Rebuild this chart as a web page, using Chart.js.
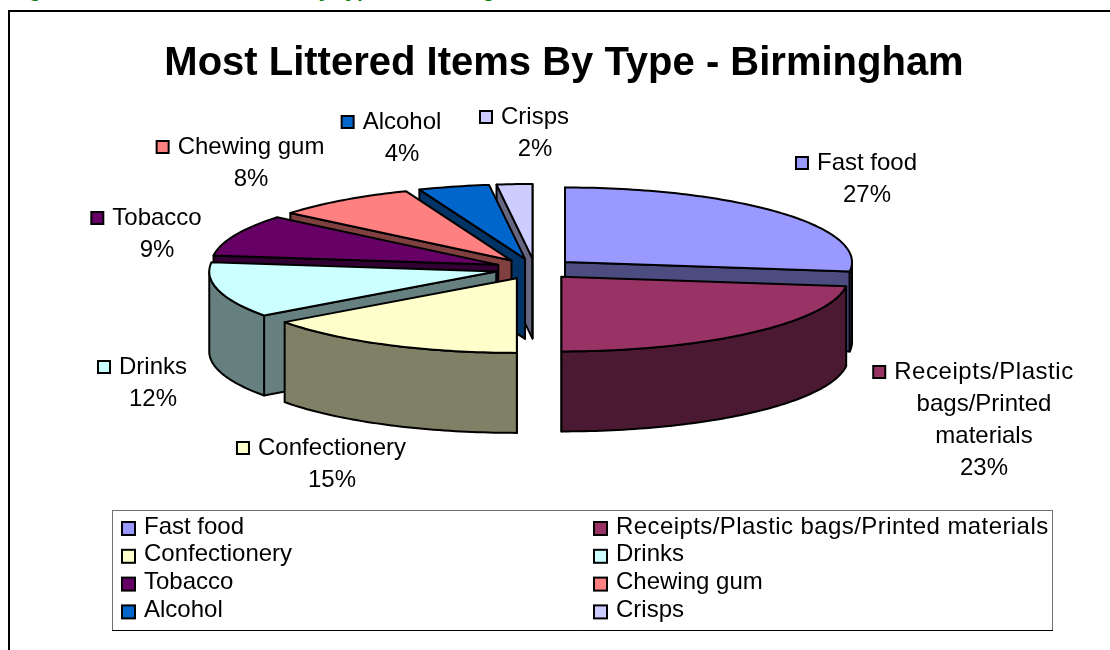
<!DOCTYPE html>
<html>
<head>
<meta charset="utf-8">
<title>Most Littered Items By Type - Birmingham</title>
<script src="https://cdn.jsdelivr.net/npm/chart.js@4"></script>
<style>
    html, body { margin: 0; padding: 0; width: 1110px; height: 650px; overflow: hidden; background: #fff; }
    #heading {
        position: absolute; left: 10px; top: -22px; white-space: nowrap;
        font: bold 21px "Liberation Sans", Arial, sans-serif; color: #008000; word-spacing: 2px;
    }
    #frame {
        position: absolute; left: 8px; top: 10px; width: 1200px; height: 700px;
        border: 2px solid #000; box-sizing: border-box;
    }
    #pie { position: absolute; left: 0; top: 0; }
</style>
</head>
<body>
<div id="heading">Figure 1: Most littered items by type in Birmingham</div>
<div id="frame"><canvas id="pie" width="1108" height="638"></canvas></div>
<script>
const FONT = '"Liberation Sans", Arial, sans-serif';

const categories = ["Fast food", "Receipts/Plastic bags/Printed materials", "Confectionery", "Drinks",
    "Tobacco", "Chewing gum", "Alcohol", "Crisps"];
const percentages = [27, 23, 15, 12, 9, 8, 4, 2];
const topColors = ["#9999FF", "#993366", "#FFFFCC", "#CCFFFF", "#660066", "#FF8080", "#0066CC", "#CCCCFF"];
const sideColors = ["#4C4C80", "#4C1933", "#808066", "#668080", "#330033", "#804040", "#003366", "#666680"];
const labelLines = [["Fast food"], ["Receipts/Plastic", "bags/Printed", "materials"], ["Confectionery"], ["Drinks"],
    ["Tobacco"], ["Chewing gum"], ["Alcohol"], ["Crisps"]];

// centre of the first line of each slice label, canvas pixels
const labelAnchors = [[857, 151], [974, 360], [322, 436], [143, 355], [147, 206], [241, 135], [392, 110], [525, 105]];

// the long Receipts strings run a bit wider than the font gives
const letterSpacing = { "Receipts/Plastic": "0.55px", "Receipts/Plastic bags/Printed materials": "0.42px" };

const TILT = 0.26;      // squash of the pie ellipse
const DEPTH = 80;       // height of the extruded side
const EXPLODE = 40;     // how far slices are pulled out
const SHIFT_X = -29;    // pie sits left of the title centre
const LINE = 2;

function sliceGeometry(arc) {
    const mid = (arc.startAngle + arc.endAngle) / 2;
    const cx = arc.x + SHIFT_X + Math.cos(mid) * EXPLODE;
    const cy = arc.y + Math.sin(mid) * EXPLODE * TILT;
    const px = a => cx + Math.cos(a) * arc.outerRadius;
    const py = (a, down) => cy + Math.sin(a) * arc.outerRadius * TILT + (down || 0);
    return { cx, cy, px, py, mid };
}

function drawPoly(ctx, points, fill) {
    ctx.beginPath();
    points.forEach((p, i) => i ? ctx.lineTo(p[0], p[1]) : ctx.moveTo(p[0], p[1]));
    ctx.closePath();
    ctx.fillStyle = fill;
    ctx.fill();
    ctx.stroke();
}

function arcPoints(g, from, to, down) {
    const pts = [];
    const steps = Math.max(2, Math.ceil(Math.abs(to - from) / 0.02));
    for (let i = 0; i <= steps; i++) {
        const a = from + (to - from) * i / steps;
        pts.push([g.px(a), g.py(a, down)]);
    }
    return pts;
}

function drawSlice(ctx, arc, side) {
    const g = sliceGeometry(arc);
    const s = arc.startAngle, e = arc.endAngle;
    ctx.strokeStyle = "#000";
    ctx.lineWidth = LINE;
    ctx.lineJoin = "round";

    // radial cut faces, only the ones turned to the viewer
    if (Math.cos(s) < 0.001) {
        drawPoly(ctx, [[g.cx, g.cy], [g.px(s), g.py(s)], [g.px(s), g.py(s, DEPTH)], [g.cx, g.cy + DEPTH]], side);
    }
    if (Math.cos(e) > -0.001) {
        drawPoly(ctx, [[g.cx, g.cy], [g.px(e), g.py(e)], [g.px(e), g.py(e, DEPTH)], [g.cx, g.cy + DEPTH]], side);
    }

    // outer rim, front half only
    const ranges = [[0, Math.PI], [2 * Math.PI, 3 * Math.PI]];
    ranges.forEach(r => {
        const from = Math.max(s, r[0]), to = Math.min(e, r[1]);
        if (to > from) {
            drawPoly(ctx, arcPoints(g, from, to, 0).concat(arcPoints(g, to, from, DEPTH)), side);
        }
    });

    // top face
    drawPoly(ctx, [[g.cx, g.cy]].concat(arcPoints(g, s, e, 0)), arc.options.backgroundColor);
}

function drawSwatch(ctx, x, y, size, fill) {
    ctx.fillStyle = fill;
    ctx.fillRect(x, y, size, size);
    ctx.strokeStyle = "#000";
    ctx.lineWidth = 2;
    ctx.strokeRect(x, y, size, size);
}

function drawText(ctx, text, x, y) {
    ctx.letterSpacing = letterSpacing[text] || "0px";
    ctx.fillText(text, x, y);
    ctx.letterSpacing = "0px";
}

const pie3d = {
    id: "pie3d",
    beforeDatasetDraw(chart, args) {
        const ctx = chart.ctx;
        const arcs = chart.getDatasetMeta(args.index).data;
        const order = arcs.map((arc, i) => i).sort((a, b) =>
            Math.sin(sliceGeometry(arcs[a]).mid) - Math.sin(sliceGeometry(arcs[b]).mid));
        ctx.save();
        order.forEach(i => drawSlice(ctx, arcs[i], sideColors[i]));
        ctx.restore();
        return false;
    },
    afterDraw(chart) {
        const ctx = chart.ctx;
        ctx.save();
        ctx.font = "24px " + FONT;
        ctx.textBaseline = "middle";

        // slice labels
        ctx.textAlign = "center";
        categories.forEach((name, i) => {
            const [x, y] = labelAnchors[i];
            const lines = labelLines[i].concat(percentages[i] + "%");
            ctx.letterSpacing = letterSpacing[lines[0]] || "0px";
            const w = ctx.measureText(lines[0]).width;
            ctx.letterSpacing = "0px";
            drawSwatch(ctx, x - w / 2 - 21, y - 6, 12, topColors[i]);
            ctx.fillStyle = "#000";
            lines.forEach((line, n) => drawText(ctx, line, x, y + n * 32));
        });

        // boxed legend, two columns
        ctx.lineWidth = 1;
        ctx.strokeStyle = "#707070";
        ctx.strokeRect(102.5, 498.5, 940, 120);
        ctx.strokeStyle = "#000";
        ctx.beginPath();
        ctx.moveTo(102, 618.5);
        ctx.lineTo(1043, 618.5);
        ctx.stroke();
        ctx.textAlign = "left";
        categories.forEach((name, i) => {
            const col = i % 2, row = Math.floor(i / 2);
            const x = col ? 584 : 112;
            const y = 515 + row * 27.8;
            drawSwatch(ctx, x, y - 5, 13, topColors[i]);
            ctx.fillStyle = "#000";
            drawText(ctx, name, x + 22, y);
        });
        ctx.restore();
    },
};

new Chart(document.getElementById("pie"), {
    type: "pie",
    data: {
        labels: categories,
        datasets: [{ data: percentages, backgroundColor: topColors, borderWidth: 0 }],
    },
    plugins: [pie3d],
    options: {
        responsive: false,
        animation: false,
        radius: 287,
        layout: { padding: { bottom: 200 } },
        plugins: {
            legend: { display: false },
            tooltip: { enabled: false },
            title: {
                display: true,
                text: "Most Littered Items By Type - Birmingham",
                color: "#000",
                font: { family: FONT, size: 40, weight: "bold", lineHeight: 1.2 },
                padding: { top: 28, bottom: 0 },
            },
        },
    },
});
</script>
</body>
</html>
